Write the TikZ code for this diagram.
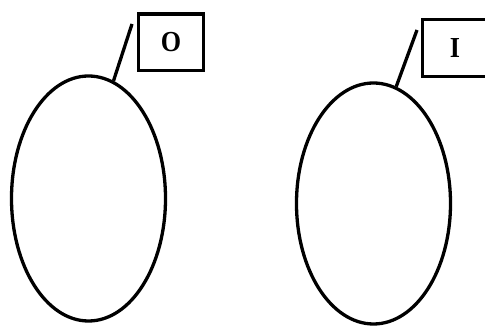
\documentclass[tikz,border=0pt]{standalone}
\usepackage{fontspec}
\setmainfont{Liberation Serif}
\usetikzlibrary{shapes.geometric}
\begin{document}
\begin{tikzpicture}[x=1pt,y=1pt,
  blob/.style={draw=black, line width=3.3pt, ellipse, inner sep=0pt},
  tagbox/.style={draw=black, line width=3.3pt, rectangle, inner sep=0pt,
    minimum width=65pt, minimum height=56.5pt, font=\fontsize{29}{31}\selectfont\bfseries},
  leader/.style={draw=black, line width=3.3pt}]
\useasboundingbox (0,0) rectangle (485,326);
\node[blob, minimum width=154pt, minimum height=245pt] (L) at (88.5,127.5) {};
\node[blob, minimum width=154pt, minimum height=241pt] (R) at (373.5,122.5) {};
\node[tagbox] (O) at (171,283.8) {\scalebox{0.9}[1]{O}};
\node[tagbox] (I) at (455,277.9) {\scalebox{0.9}[1]{I}};
\coordinate (lt) at (132,302);
\coordinate (rt) at (417,296);
\draw[leader] (lt) -- (L.78.3);
\draw[leader] (rt) -- (R.79);
\end{tikzpicture}
\end{document}
